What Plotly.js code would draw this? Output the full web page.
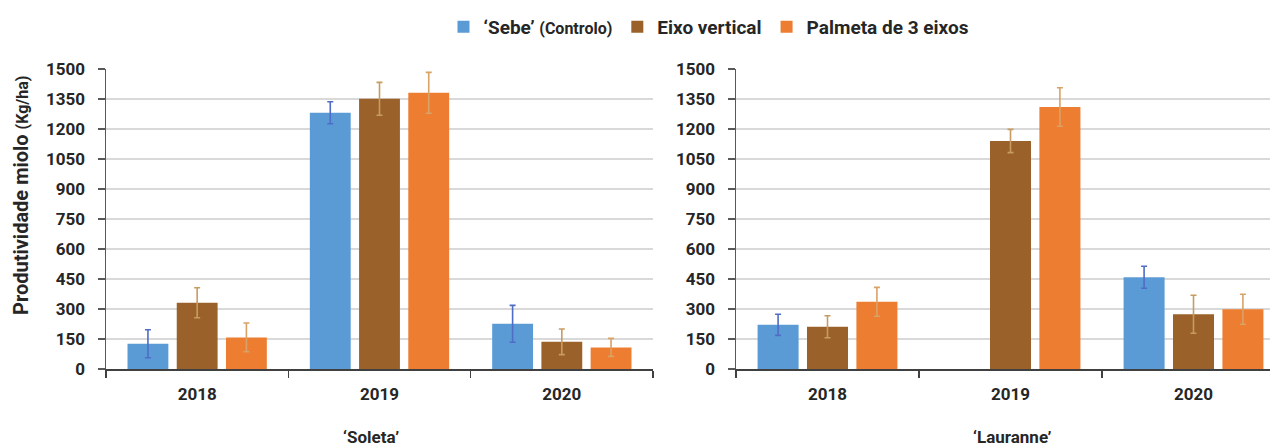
<!DOCTYPE html>
<html>
<head>
<meta charset="utf-8">
<script src="https://cdn.plot.ly/plotly-3.0.1.min.js"></script>
<style>html,body{margin:0;padding:0;background:#fff;}#chart{width:1270px;height:446px;}</style>
</head>
<body>
<div id="chart"></div>
<script>
// Data
const years = ["2018", "2019", "2020"];
const seriesNames = ["‘Sebe’ <span style='font-size:16px'>(Controlo)</span>", "Eixo vertical", "Palmeta de 3 eixos"];

// 'Soleta'
const soletaSebe = [126, 1281, 226];
const soletaSebeErr = [70, 55, 92];
const soletaEixo = [331, 1351, 136];
const soletaEixoErr = [75, 82, 64];
const soletaPalmeta = [158, 1381, 108];
const soletaPalmetaErr = [72, 102, 45];

// 'Lauranne'
const lauranneSebe = [221, null, 459];
const lauranneSebeErr = [53, 0, 55];
const lauranneEixo = [211, 1140, 274];
const lauranneEixoErr = [55, 58, 95];
const laurannePalmeta = [336, 1310, 299];
const laurannePalmetaErr = [72, 96, 75];

const yTicks = [0, 150, 300, 450, 600, 750, 900, 1050, 1200, 1350, 1500];
const subtitles = ["‘Soleta’", "‘Lauranne’"];
const yTitle = "Produtividade miolo <span style='font-size:16px'>(Kg/ha)</span>";

const colors = ["#5b9bd5", "#9a622a", "#ed7d31"];
const errColors = ["#4f6cc6", "#c79c63", "#d9a266"];

function mk(name, y, err, i, xa, ya, show) {
  return {
    type: "bar", name: name, x: years, y: y,
    xaxis: xa, yaxis: ya, showlegend: show, legendgroup: "g" + i,
    marker: {color: colors[i], line: {width: 0}},
    error_y: {type: "data", array: err, visible: true, symmetric: true,
              color: errColors[i], thickness: 1.6, width: 3},
    hoverinfo: "skip"
  };
}

const traces = [
  mk(seriesNames[0], soletaSebe, soletaSebeErr, 0, "x", "y", true),
  mk(seriesNames[1], soletaEixo, soletaEixoErr, 1, "x", "y", true),
  mk(seriesNames[2], soletaPalmeta, soletaPalmetaErr, 2, "x", "y", true),
  mk(seriesNames[0], lauranneSebe, lauranneSebeErr, 0, "x2", "y2", false),
  mk(seriesNames[1], lauranneEixo, lauranneEixoErr, 1, "x2", "y2", false),
  mk(seriesNames[2], laurannePalmeta, laurannePalmetaErr, 2, "x2", "y2", false)
];

const fontFam = "Roboto, 'Open Sans', sans-serif";
const tickFont = {family: fontFam, size: 17, color: "#262626", weight: 700};

function yAxis(anchor) {
  return {
    anchor: anchor, range: [0, 1500], tickvals: yTicks, ticktext: yTicks.map(String),
    showgrid: true, gridcolor: "#d9d9d9", gridwidth: 1.2,
    showline: true, linecolor: "#595959", linewidth: 1.5,
    ticks: "outside", ticklen: 7, tickcolor: "#595959", tickwidth: 1.2,
    ticklabelstandoff: 9,
    zeroline: false, tickfont: tickFont, domain: [0.1726, 0.8453], fixedrange: true
  };
}
function xAxis(anchor, domain, range) {
  return {
    anchor: anchor, domain: domain, type: "category", range: range,
    showgrid: false, showline: true, linecolor: "#404040", linewidth: 1.8,
    ticks: "outside", tickson: "boundaries", ticklen: 7, tickcolor: "#404040", tickwidth: 1.5,
    tickfont: tickFont, ticklabelstandoff: 9, zeroline: false, fixedrange: true
  };
}

const layout = {
  width: 1270, height: 446,
  margin: {l: 0, r: 0, t: 0, b: 0},
  paper_bgcolor: "#ffffff", plot_bgcolor: "#ffffff",
  barmode: "group", bargap: 0.19, bargroupgap: 0.17,
  font: {family: fontFam, color: "#262626"},
  xaxis: xAxis("y", [106/1270, 653/1270], [-0.5, 2.5]),
  yaxis: yAxis("x"),
  xaxis2: xAxis("y2", [736/1270, 1], [-0.5, 2.5 - 15/183]),
  yaxis2: yAxis("x2"),
  showlegend: true,
  legend: {orientation: "h", x: 709/1270, xanchor: "center", y: (446-27)/446, yanchor: "middle",
           font: {family: fontFam, size: 19, color: "#262626", weight: 700},
           itemwidth: 30, tracegroupgap: 0, bgcolor: "rgba(0,0,0,0)"},
  annotations: [
    {text: subtitles[0], xref: "paper", yref: "paper", x: 371/1270, y: (446-437)/446,
     xanchor: "center", yanchor: "middle", showarrow: false,
     font: {family: fontFam, size: 17, color: "#262626", weight: 700}},
    {text: subtitles[1], xref: "paper", yref: "paper", x: 1012/1270, y: (446-437)/446,
     xanchor: "center", yanchor: "middle", showarrow: false,
     font: {family: fontFam, size: 17, color: "#262626", weight: 700}},
    {text: yTitle, xref: "paper", yref: "paper", x: 21/1270, y: (446-196)/446,
     xanchor: "center", yanchor: "middle", textangle: -90, showarrow: false,
     font: {family: fontFam, size: 20, color: "#262626", weight: 700}}
  ]
};

Plotly.newPlot("chart", traces, layout, {staticPlot: true, displayModeBar: false});
</script>
</body>
</html>
